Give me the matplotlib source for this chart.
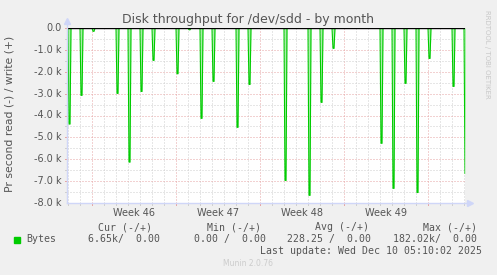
import matplotlib
matplotlib.use("Agg")
import matplotlib.pyplot as plt
import numpy as np

# ---- data (days relative to Mon Nov 10 2025 00:00, values in bytes/s read) ----
spike_days = [-2, -1, 0, 2, 3, 4, 5, 7, 8, 9, 10, 12, 13, 16, 18, 19, 20,
              24, 25, 26, 27, 28, 30, 31]
spike_read = [4390, 3080, 150, 2990, 6130, 2900, 1480, 2090, 80, 4130, 2440,
              4540, 2580, 6970, 7650, 3400, 930, 5270, 7330, 2530, 7520, 1390,
              2670, 6650]
spike_hour = 2.0  # hour of day at which the daily burst happens
week_labels = ["Week 46", "Week 47", "Week 48", "Week 49"]
yticks = [0, -1000, -2000, -3000, -4000, -5000, -6000, -7000, -8000]
ytick_labels = ["0.0", "-1.0 k", "-2.0 k", "-3.0 k", "-4.0 k", "-5.0 k",
                "-6.0 k", "-7.0 k", "-8.0 k"]
legend_name = "Bytes"
cur = "6.65k/  0.00"
mn = "0.00 /  0.00"
avg = "228.25 /  0.00"
mx = "182.02k/  0.00"

W, H = 497, 275
fig = plt.figure(figsize=(W / 100, H / 100), dpi=100, facecolor="#f0f0f0")

L, R, T, B = 67, 465, 28, 203
ax = fig.add_axes([L / W, 1 - B / H, (R - L) / W, (B - T) / H])
ax.set_facecolor("white")
px = 1 / 12.0  # one pixel in days
x0 = (L - 92) / 12.0
x1 = (R - 92) / 12.0
ax.set_xlim(x0, x1)
ax.set_ylim(-8000, 0)

for s in ax.spines.values():
    s.set_visible(False)
ax.tick_params(left=False, bottom=False, labelleft=False, labelbottom=False)

grey = "#cfcfcf"
red = "#e6a5a5"
dash = (0, (1, 2))
# vertical grid
for d in range(-2, 32):
    c = red if d % 7 == 0 else grey
    ax.axvline(d, color=c, lw=0.72, linestyle=dash, zorder=1)
    ax.plot([d, d], [-8000, -8000 - 2 * 8000 / 175], color=c, lw=0.72,
            clip_on=False, zorder=1)
# horizontal grid
for v in np.arange(-7500, 0, 500):
    c = red if v % 1000 == 0 else grey
    ax.axhline(v, color=c, lw=0.72, linestyle=dash, zorder=1)
    ax.plot([x0 - 2 * px, x0], [v, v], color=c, lw=0.72, clip_on=False,
            zorder=1)
ax.plot([x0 - 2 * px, x0], [0, 0], color=red, lw=0.72, clip_on=False)

# series
xs, ys = [], []
for d, v in zip(spike_days, spike_read):
    t = d + spike_hour / 24
    xs += [t - px, t, t + px, t + 2 * px]
    ys += [0, -v, -v, 0]
xs = [x0] + xs + [x1]
ys = [0] + ys + [0]
ax.fill_between(xs, ys, 0, color="#a8eea8", lw=0, zorder=2)
ax.plot(xs, ys, color="#00cc00", lw=0.8, zorder=3)
ax.axhline(0, color="black", lw=1.0, zorder=3.5)

# axes lines with arrows
axis_c = "#cfd6f8"
ax.plot([x0, x0], [-8000, 350], color=axis_c, lw=1, clip_on=False, zorder=4)
ax.plot([x0, x1 + 5 * px], [-8000, -8000], color=axis_c, lw=1, clip_on=False,
        zorder=4)
ax.plot([x0], [330], marker="^", color=axis_c, ms=4, clip_on=False, zorder=4)
ax.plot([x1 + 5 * px], [-8000], marker=">", color=axis_c, ms=4, clip_on=False,
        zorder=4)

fc = "#555555"
for v, lab in zip(yticks, ytick_labels):
    ax.text(x0 - 5 * px, v, lab, ha="right", va="center", fontsize=7,
            color=fc)
for i, lab in enumerate(week_labels):
    ax.text(7 * i + 3.5, -8000 - 10 * 8000 / 175, lab, ha="center",
            va="center", fontsize=7, color=fc)

def ftxt(x, y, s, **kw):
    fig.text(x / W, 1 - y / H, s, **kw)

ftxt(248, 19, "Disk throughput for /dev/sdd - by month", ha="center",
     va="center", fontsize=9, color=fc)
ftxt(10, 114, "Pr second read (-) / write (+)", ha="center", va="center",
     rotation=90, fontsize=7.8, color=fc)
ftxt(487, 10, "RRDTOOL / TOBI OETIKER", ha="center", va="top",
     rotation=-90, fontsize=5, color="#c8c8c8")

mono = dict(family="DejaVu Sans Mono", fontsize=7.15, color=fc, va="center")
ftxt(98, 227, "Cur (-/+)", **mono)
ftxt(207, 227, "Min (-/+)", **mono)
ftxt(315, 227, "Avg (-/+)", **mono)
ftxt(423, 227, "Max (-/+)", **mono)
fig.patches.append(plt.Rectangle((14 / W, 1 - 243 / H), 6 / W, 6 / H,
                                 transform=fig.transFigure, color="#00cc00"))
ftxt(26, 239, legend_name, **mono)
ftxt(88, 239, cur, **mono)
ftxt(194, 239, mn, **mono)
ftxt(287, 239, avg, **mono)
ftxt(393, 239, mx, **mono)
ftxt(482, 251, "Last update: Wed Dec 10 05:10:02 2025", ha="right", **mono)
ftxt(248, 264, "Munin 2.0.76", ha="center", va="center", fontsize=5.5,
     color="#cccccc")

fig.savefig("out.png", dpi=100, facecolor=fig.get_facecolor())
